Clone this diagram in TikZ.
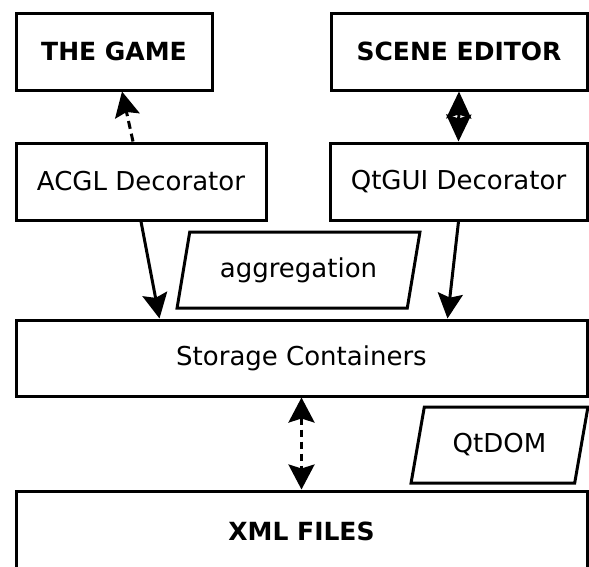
\documentclass[tikz,border=0pt]{standalone}
\usepackage{fontspec}
\setmainfont{DejaVu Sans}
\usetikzlibrary{arrows.meta,shapes.geometric}
\tikzset{
  box-t/.style={draw,rectangle,minimum height=77pt,inner sep=0pt,line width=3pt,font=\fontsize{25}{30}\selectfont\bfseries},
  box-d/.style={draw,rectangle,minimum height=77pt,inner sep=0pt,line width=3pt,font=\fontsize{26}{31}\selectfont},
  box-p/.style={draw,trapezium,trapezium left angle=70,trapezium right angle=110,trapezium stretches=true,minimum height=76pt,inner sep=0pt,line width=3pt,font=\fontsize{26}{31}\selectfont},
  tip/.style={Stealth[length=25pt,width=25pt,inset=4pt]},
  flow/.style={-{Stealth[length=25pt,width=25pt,inset=4pt]},line width=3pt},
  call/.style={-{Stealth[length=25pt,width=25pt,inset=4pt]},line width=3pt,dash pattern=on 8pt off 5pt},
  sync/.style={{Stealth[length=27pt,width=25pt,inset=4pt]}-{Stealth[length=27pt,width=25pt,inset=4pt]},line width=3pt},
  io/.style={{Stealth[length=25pt,width=26pt,inset=4pt]}-{Stealth[length=25pt,width=26pt,inset=4pt]},line width=3pt,dash pattern=on 7pt off 5pt},
}

\begin{document}
\begin{tikzpicture}[x=1pt,y=-1pt]
  \useasboundingbox (0,0) rectangle (589,566);

  % ROW 1: front ends
  \node[box-t,minimum width=196pt] (game)   at (114, 51.5)  {THE GAME};
  \node[box-t,minimum width=256pt] (editor) at (459, 51.5)  {SCENE EDITOR};

  % ROW 2: decorators
  \node[box-d,minimum width=250pt] (acgl)   at (141, 181.5) {ACGL Decorator};
  \node[box-d,minimum width=257pt] (qtgui)  at (458.5, 181.5) {QtGUI Decorator};
  \node[box-p,minimum width=243pt] (agg)    at (298.5, 270) {aggregation};

  % ROW 3: storage
  \node[box-d,minimum width=571pt,minimum height=76pt] (store) at (301.5, 358) {Storage Containers};
  \node[box-p,minimum width=177pt] (qtdom)  at (499.5, 445) {QtDOM};

  % ROW 4: files
  \node[box-t,minimum width=571pt,minimum height=80pt] (xml) at (301.5, 531) {XML FILES};

  \draw[call] ([xshift=-8pt]acgl.north) -- ([xshift=8pt]game.south);
  \draw[sync] (editor.south) -- (qtgui.north);
  \draw[flow] (acgl.south) -- ([xshift=-142pt]store.north);
  \draw[flow] (qtgui.south) -- ([xshift=146pt]store.north);
  \draw[io]   (store.south) -- (xml.north);

\end{tikzpicture}
\end{document}
